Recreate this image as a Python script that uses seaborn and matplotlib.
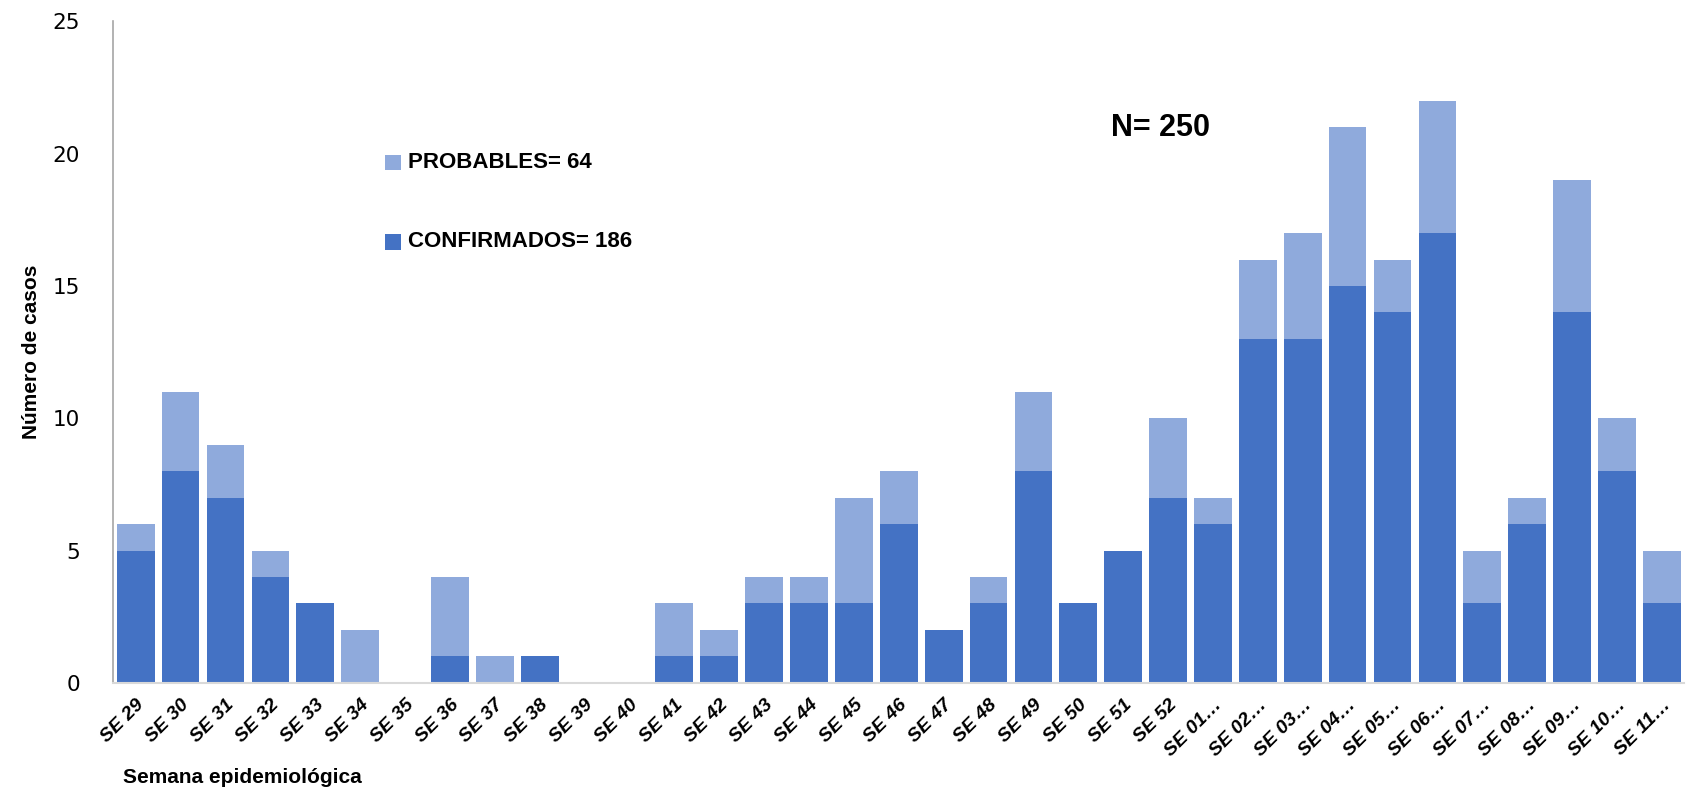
import matplotlib
matplotlib.use("Agg")
import matplotlib.pyplot as plt
import seaborn as sns
import pandas as pd

weeks = ["SE 29", "SE 30", "SE 31", "SE 32", "SE 33", "SE 34", "SE 35", "SE 36", "SE 37", "SE 38",
         "SE 39", "SE 40", "SE 41", "SE 42", "SE 43", "SE 44", "SE 45", "SE 46", "SE 47", "SE 48",
         "SE 49", "SE 50", "SE 51", "SE 52", "SE 01…", "SE 02…", "SE 03…", "SE 04…", "SE 05…",
         "SE 06…", "SE 07…", "SE 08…", "SE 09…", "SE 10…", "SE 11…"]
confirmados = [5, 8, 7, 4, 3, 0, 0, 1, 0, 1,
               0, 0, 1, 1, 3, 3, 3, 6, 2, 3,
               8, 3, 5, 7, 6, 13, 13, 15, 14,
               17, 3, 6, 14, 8, 3]
probables = [1, 3, 2, 1, 0, 2, 0, 3, 1, 0,
             0, 0, 2, 1, 1, 1, 4, 2, 0, 1,
             3, 0, 0, 3, 1, 3, 4, 6, 2,
             5, 2, 1, 5, 2, 2]

df = pd.DataFrame({"semana": weeks, "confirmados": confirmados, "probables": probables})
df["total"] = df["confirmados"] + df["probables"]

C_CONF = "#4472C4"
C_PROB = "#8FAADC"

sns.set_theme(style="white")
plt.rcParams["font.family"] = ["Liberation Sans", "DejaVu Sans"]
plt.rcParams["text.color"] = "black"
plt.rcParams["axes.labelcolor"] = "black"
plt.rcParams["xtick.color"] = "black"
plt.rcParams["ytick.color"] = "black"

fig = plt.figure(figsize=(16.91, 7.93), dpi=100)
ax = fig.add_axes([0.067, 0.139, 0.929, 0.834])

sns.barplot(data=df, x="semana", y="total", color=C_PROB, saturation=1, width=0.84,
            edgecolor="none", linewidth=0, ax=ax)
sns.barplot(data=df, x="semana", y="confirmados", color=C_CONF, saturation=1, width=0.84,
            edgecolor="none", linewidth=0, ax=ax)

ax.set_xlim(-0.5, len(weeks) - 0.5)
ax.set_ylim(0, 25)
ax.set_yticks([0, 5, 10, 15, 20, 25])
ax.set_yticklabels(["0", "5", "10", "15", "20", "25"], fontfamily="DejaVu Sans", fontsize=15.5)
ax.tick_params(axis="y", length=0, pad=24)
ax.tick_params(axis="x", length=0, pad=10)
for lbl in ax.get_xticklabels():
    lbl.set_rotation(45)
    lbl.set_ha("right")
    lbl.set_rotation_mode("anchor")
    lbl.set_fontweight("bold")
    lbl.set_fontstyle("italic")
    lbl.set_fontsize(14)

for s in ["top", "right"]:
    ax.spines[s].set_visible(False)
ax.spines["left"].set_color("#A6A6A6")
ax.spines["left"].set_linewidth(1.2)
ax.spines["bottom"].set_color("#D9D9D9")
ax.spines["bottom"].set_linewidth(1.5)

ax.set_xlabel("")
ax.set_ylabel("Número de casos", fontsize=15, fontweight="bold", labelpad=8)
fig.text(0.073, 0.008, "Semana epidemiológica", fontsize=15, fontweight="bold", ha="left", va="bottom")

# legend-like annotations
fig.patches.append(plt.Rectangle((0.2275, 0.785), 0.0095, 0.02, transform=fig.transFigure,
                                 facecolor=C_PROB, edgecolor="none"))
fig.text(0.241, 0.795, "PROBABLES= 64", fontsize=16, fontweight="bold", va="center", ha="left")
fig.patches.append(plt.Rectangle((0.2275, 0.685), 0.0095, 0.02, transform=fig.transFigure,
                                 facecolor=C_CONF, edgecolor="none"))
fig.text(0.241, 0.695, "CONFIRMADOS= 186", fontsize=16, fontweight="bold", va="center", ha="left")
fig.text(0.657, 0.838, "N= 250", fontsize=22, fontweight="bold", va="center", ha="left")

fig.savefig("out.png", dpi=100)
